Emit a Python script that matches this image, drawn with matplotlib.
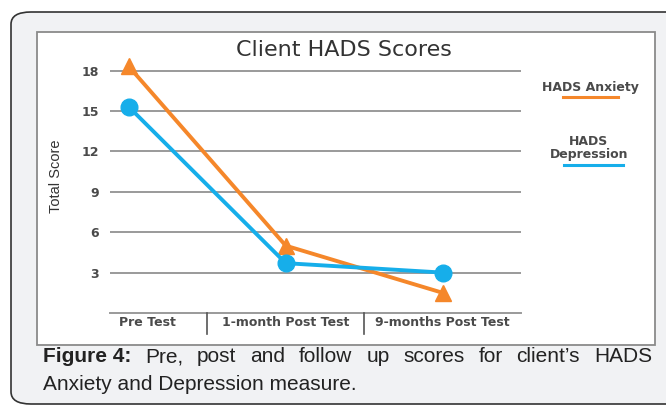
import matplotlib
matplotlib.use('Agg')
import matplotlib.pyplot as plt
from matplotlib.patches import FancyBboxPatch, Rectangle

plt.rcParams['font.family'] = ['Liberation Sans', 'DejaVu Sans']

categories = ['Pre Test', '1-month Post Test', '9-months Post Test']
anxiety = [18.3, 5.0, 1.5]
depression = [15.3, 3.7, 3.0]
yticks = [3, 6, 9, 12, 15, 18]

ORANGE = '#f5872a'
BLUE = '#16aeea'
GRID = '#9a9a9a'
WIDE = 'DejaVu Sans'

W, H = 666, 407
fig = plt.figure(figsize=(W / 100, H / 100), dpi=100)
fig.patch.set_facecolor('white')

def fx(px):
    return px / W

def fy(py):
    return 1 - py / H

# outer rounded panel
panel = FancyBboxPatch((fx(11), fy(404)), fx(700), fy(12) - fy(404),
                       boxstyle='round,pad=0,rounding_size=0.03',
                       transform=fig.transFigure, facecolor='#f1f2f4',
                       edgecolor='#333333', linewidth=1.2, zorder=-2)
fig.patches.append(panel)
# white chart frame
frame = Rectangle((fx(37), fy(345)), fx(655) - fx(37), fy(32) - fy(345),
                  transform=fig.transFigure, facecolor='white',
                  edgecolor='#8a8a8a', linewidth=1.3, zorder=-1)
fig.patches.append(frame)

# axes: x from 110 to 520 px, y=0 at 313 px, 13.47 px per unit
ymax = 19
ax = fig.add_axes([fx(110), fy(313), fx(521) - fx(110), (ymax * 13.47) / H])
ax.set_zorder(2)
ax.set_facecolor('none')
x = [0, 1, 2]
ax.set_xlim(-0.12, 2.5)
ax.set_ylim(0, ymax)
for s in ax.spines.values():
    s.set_visible(False)
for t in yticks:
    ax.axhline(t, color=GRID, lw=1.4, zorder=1)
ax.axhline(0, color=GRID, lw=1.4, zorder=1, clip_on=False)

ax.plot(x, anxiety, color=ORANGE, lw=2.8, marker='^', ms=12, zorder=3,
        clip_on=False)
ax.plot(x, depression, color=BLUE, lw=2.8, marker='o', ms=12, zorder=4,
        clip_on=False)

ax.set_yticks(yticks)
ax.set_yticklabels([str(t) for t in yticks], fontsize=9, fontweight='bold',
                   color='#4a4a4a', family=WIDE)
ax.tick_params(axis='y', length=0, pad=8)
ax.set_xticks([])

# category separators and labels under the axis
for sep in [0.5, 1.5]:
    ax.plot([sep, sep], [0, -1.55], color='#555555', lw=1.2, clip_on=False)
label_pos = [0.116, 1, 2]
for xp, lab in zip(label_pos, categories):
    ax.text(xp, -0.2, lab, ha='center', va='top', fontsize=9,
            fontweight='bold', color='#4a4a4a', family=WIDE)

fig.text(fx(56), fy(176), 'Total Score', rotation=90, ha='center',
         va='center', fontsize=10.5, color='#333333')
fig.text(fx(344), fy(50), 'Client HADS Scores', ha='center', va='center',
         fontsize=16, color='#333333', family=WIDE)

# legend
fig.text(fx(590), fy(88), 'HADS Anxiety', ha='center', va='center',
         fontsize=9, fontweight='bold', color='#4a4a4a', family=WIDE)
fig.lines.append(plt.Line2D([fx(563), fx(618)], [fy(97), fy(97)],
                            transform=fig.transFigure, color=ORANGE, lw=2.2))
fig.text(fx(589), fy(148), 'HADS\nDepression', ha='center', va='center',
         fontsize=9, fontweight='bold', color='#4a4a4a', linespacing=1.05,
         family=WIDE)
fig.lines.append(plt.Line2D([fx(564), fx(623)], [fy(165), fy(165)],
                            transform=fig.transFigure, color=BLUE, lw=2.2))

# caption, first line justified between 43 and 652 px
cap_size = 15
line1 = ['Pre,', 'post', 'and', 'follow', 'up', 'scores', 'for', 'client\u2019s', 'HADS']
words = [fig.text(0, fy(357), 'Figure 4:', ha='left', va='center',
                  fontsize=cap_size, fontweight='bold', color='#222222')]
words += [fig.text(0, fy(357), w, ha='left', va='center', fontsize=cap_size,
                   color='#222222') for w in line1]
fig.canvas.draw()
r = fig.canvas.get_renderer()
widths = [t.get_window_extent(r).width for t in words]
gap = (652 - 43 - sum(widths)) / (len(words) - 1)
pos = 43
for t, wd in zip(words, widths):
    t.set_x(fx(pos))
    pos += wd + gap
fig.text(fx(43), fy(384), 'Anxiety and Depression measure.', ha='left',
         va='center', fontsize=cap_size, color='#222222')

fig.savefig('out.png', dpi=100)
